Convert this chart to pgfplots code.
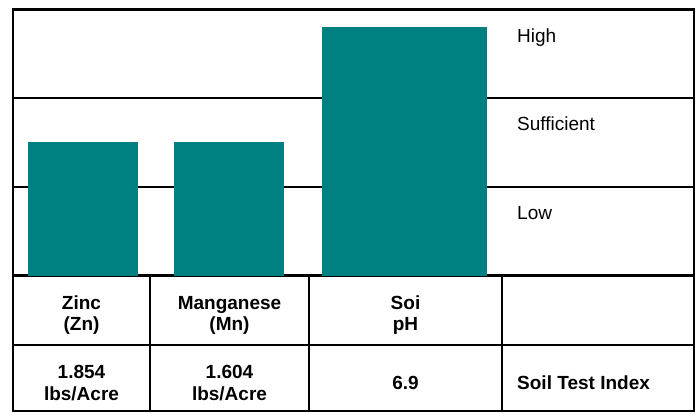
\documentclass[border=0pt]{standalone}
\usepackage{fontspec}
\setmainfont{Liberation Sans}
\usepackage{pgfplots}
\pgfplotsset{compat=1.18}
\definecolor{barteal}{RGB}{0,128,128}
\tikzset{tf/.style={anchor=base, inner sep=0pt, font=\fontsize{19bp}{21bp}\selectfont\bfseries}}
\begin{document}
\fontsize{19bp}{21bp}\selectfont
\begin{tikzpicture}
\begin{axis}[name=ax, scale only axis, width=681bp, height=401.5bp,
  xmin=13, xmax=694, ymin=-1.528, ymax=3,
  axis line style={line width=2.6bp, black}, ticks=none, clip=false,
  ybar, bar shift=0pt,
  every node/.append style={font=\fontsize{19bp}{21bp}\selectfont}]
% band lines
\draw[line width=2.6bp] (axis cs:13,1) -- (axis cs:694,1);
\draw[line width=2.6bp] (axis cs:13,2) -- (axis cs:694,2);
\draw[line width=2.6bp] (axis cs:13,0) -- (axis cs:694,0);
% table lines
\draw[line width=2.6bp] (axis cs:13,-0.784) -- (axis cs:694,-0.784);
\draw[line width=2.6bp] (axis cs:150,0) -- (axis cs:150,-1.528);
\draw[line width=2.6bp] (axis cs:309,0) -- (axis cs:309,-1.528);
\draw[line width=2.6bp] (axis cs:502,0) -- (axis cs:502,-1.528);
% bars
\addplot[fill=barteal, draw=none, bar width=110] coordinates {(83,1.506)};
\addplot[fill=barteal, draw=none, bar width=110] coordinates {(229,1.506)};
\addplot[fill=barteal, draw=none, bar width=165] coordinates {(404.5,2.806)};
% band labels
\node[anchor=base west, inner sep=0pt] at (axis cs:517,2.633) {High};
\node[anchor=base west, inner sep=0pt] at (axis cs:517,1.630) {Sufficient};
\node[anchor=base west, inner sep=0pt] at (axis cs:517,0.637) {Low};
% table text
\node[tf] at (axis cs:81.5,-0.378) {Zinc};
\node[tf] at (axis cs:81.5,-0.615) {(Zn)};
\node[tf] at (axis cs:229.5,-0.378) {Manganese};
\node[tf] at (axis cs:229.5,-0.615) {(Mn)};
\node[tf] at (axis cs:405.5,-0.378) {Soi};
\node[tf] at (axis cs:405.5,-0.615) {pH};
\node[tf] at (axis cs:81.5,-1.167) {1.854};
\node[tf] at (axis cs:81.5,-1.404) {lbs/Acre};
\node[tf] at (axis cs:229.5,-1.167) {1.604};
\node[tf] at (axis cs:229.5,-1.404) {lbs/Acre};
\node[tf] at (axis cs:405.5,-1.291) {6.9};
\node[tf, anchor=base west] at (axis cs:517,-1.291) {Soil Test Index};
\end{axis}
\pgfresetboundingbox
\path[use as bounding box] ([xshift=-13bp,yshift=-1bp]ax.south west) rectangle ([xshift=5bp,yshift=9.5bp]ax.north east);
\end{tikzpicture}
\end{document}
